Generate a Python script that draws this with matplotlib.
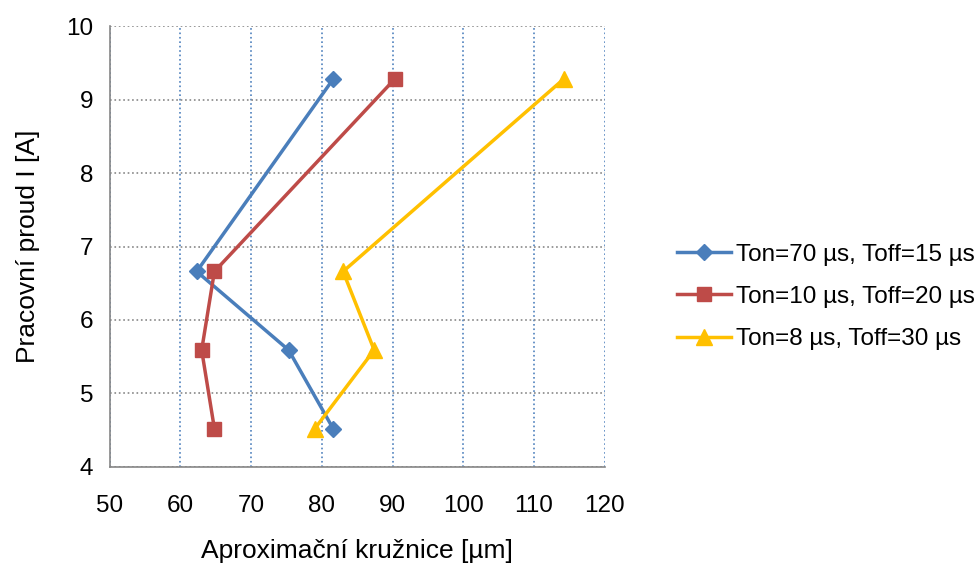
import numpy as np
import matplotlib.pyplot as plt

plt.rcParams['font.family'] = ['Liberation Sans', 'DejaVu Sans']

# data
proud = [9.28, 6.66, 5.59, 4.52]
ton70 = [81.6, 62.3, 75.3, 81.6]
ton10 = [90.3, 64.8, 63.0, 64.8]
ton8 = [114.2, 83.0, 87.4, 79.0]
labels = ['Ton=70 µs, Toff=15 µs', 'Ton=10 µs, Toff=20 µs', 'Ton=8 µs, Toff=30 µs']

fig = plt.figure(figsize=(9.8, 5.7), dpi=100)
ax = fig.add_axes([0.112, 0.181, 0.505, 0.773])

ax.plot(ton70, proud, color='#4a7ebb', lw=2.5, marker='D', ms=8, label=labels[0])
ax.plot(ton10, proud, color='#be4b48', lw=2.5, marker='s', ms=10, label=labels[1])
ax.plot(ton8, proud, color='#ffc000', lw=2.5, marker='^', ms=11, label=labels[2])

ax.set_xlim(50, 120)
ax.set_ylim(4, 10)
ax.set_xticks(np.arange(50, 121, 10))
ax.set_yticks(np.arange(4, 11, 1))
ax.tick_params(labelsize=17.5, length=0)
ax.tick_params(axis='x', pad=20)
ax.tick_params(axis='y', pad=12)
ax.xaxis.grid(True, color='#4f81bd', ls=':', lw=1.2)
ax.yaxis.grid(True, color='#888888', ls=':', lw=1.2)
ax.set_axisbelow(True)
for s in ['top', 'right']:
    ax.spines[s].set_visible(False)
for s in ['left', 'bottom']:
    ax.spines[s].set_color('#868686')
    ax.spines[s].set_linewidth(1.2)

ax.set_xlabel('Aproximační kružnice [µm]', fontsize=19, labelpad=16)
ax.set_ylabel('Pracovní proud I [A]', fontsize=19, labelpad=19)

fig.legend(loc='center left', bbox_to_anchor=(0.669, 0.479), frameon=False,
           fontsize=17.5, handlelength=2.2, handletextpad=0.2, labelspacing=0.83)

fig.savefig('out.png', dpi=100)
